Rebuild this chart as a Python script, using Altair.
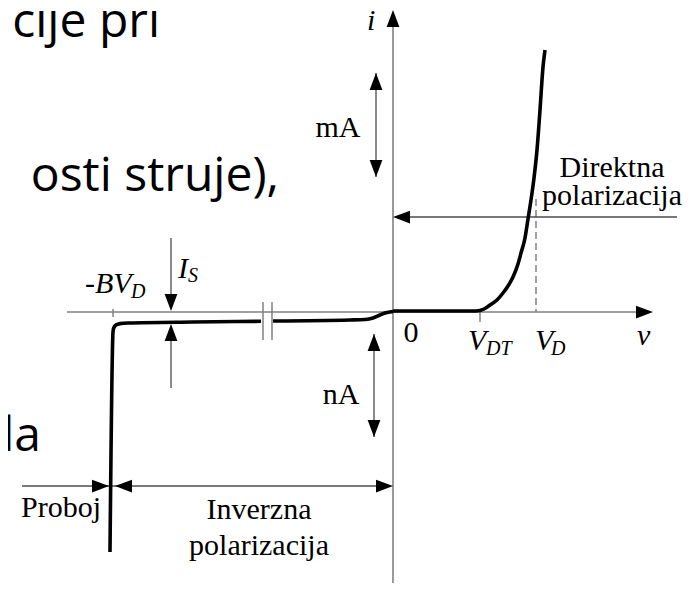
import altair as alt
import pandas as pd

# ---------------- data (diagram units: v to the right, i upward, origin at the axes crossing)
# diode characteristic, forward branch
fwd_v = [0, 83, 91, 97, 104, 110, 115, 120, 125, 128, 132, 135, 138, 141, 144, 147, 150, 152]
fwd_i = [1, 1, 3, 7, 12, 19, 26, 35, 48, 59, 74, 93, 112, 134, 162, 202, 245, 262]
# reverse branch, right of the axis break
revr_v = [0, -8, -13, -20, -28, -43, -120]
revr_i = [0.5, -1, -3, -6, -7.5, -8, -9]
# reverse branch, left of the break, then breakdown
revl_v = [-132, -200, -265, -273, -277, -279.3, -280, -283]
revl_i = [-9.3, -10, -11, -11.6, -13, -16, -20, -240]

# coordinate axes (v1, i1, v2, i2)
axis_v1 = [0, -326]
axis_i1 = [-271, 0]
axis_v2 = [0, 250]
axis_i2 = [287, 0]

# thin annotation arrow shafts
arr_v1 = [-17, -19, 284, -222, -222, -371]
arr_i1 = [239, -22, 95, 74, -76, -174]
arr_v2 = [-17, -19, 8, -222, -222, -8]
arr_i2 = [135, -125, 95, 9, -20, -174]

# ticks and the axis-break marks
tick_v1 = [-280, 87, -130, -121]
tick_i1 = [3, 0, 10, 10]
tick_v2 = [-280, 87, -130, -121]
tick_i2 = [-5, -10, -28, -28]

# dashed V_D guide
dash_v1 = [143]
dash_i1 = [113]
dash_v2 = [143]
dash_i2 = [0]

# arrow heads (centre, direction in degrees clockwise from up)
head_v = [0, 251.5, -17, -17, -19, -19, 8.5, -222, -222, -292.5, -269.5, -8.5]
head_i = [293.5, 0, 230.5, 143.5, -30.5, -116.5, 95, 9.5, -20.5, -174, -174, -174]
head_a = [0, 90, 0, 180, 0, 180, 270, 180, 0, 90, 270, 90]

# upright serif labels (centred)
lab_text = ["mA", "nA", "Direktna", "polarizacija", "Proboj", "Inverzna", "polarizacija", "0"]
lab_v = [-55, -52, 219, 219, -332, -134, -134, 18]
lab_i = [175, -92, 135, 107, -205, -207, -243, -30]

# italic serif symbols (left aligned)
sym_text = ["i", "v", "V", "V", "-BV", "I"]
sym_v = [-26, 244, 75, 142, -308, -215]
sym_i = [282, -33, -38, -38, 19, 34]

# italic subscripts (left aligned)
sub_text = ["DT", "D", "D", "S"]
sub_v = [93, 158, -262, -205]
sub_i = [-43, -43, 14, 30]

# slide text fragments (right aligned, cut at the left edge)
slide_text = ["cije pri", "osti struje),", "da"]
slide_v = [-233, -114, -352]
slide_i = [275, 121, -139]

# ---------------- tables
curve = pd.DataFrame(
    [dict(seg="fwd", k=k, v=a, i=b) for k, (a, b) in enumerate(zip(fwd_v, fwd_i))]
    + [dict(seg="revr", k=k, v=a, i=b) for k, (a, b) in enumerate(zip(revr_v, revr_i))]
    + [dict(seg="revl", k=k, v=a, i=b) for k, (a, b) in enumerate(zip(revl_v, revl_i))]
)

def seg_df(v1, i1, v2, i2):
    return pd.DataFrame({"v": v1, "i": i1, "v2": v2, "i2": i2})

axes_df = seg_df(axis_v1, axis_i1, axis_v2, axis_i2)
arr_df = seg_df(arr_v1, arr_i1, arr_v2, arr_i2)
tick_df = seg_df(tick_v1, tick_i1, tick_v2, tick_i2)
dash_df = seg_df(dash_v1, dash_i1, dash_v2, dash_i2)
heads = pd.DataFrame({"v": head_v, "i": head_i, "a": head_a})
labs = pd.DataFrame({"t": lab_text, "v": lab_v, "i": lab_i})
syms = pd.DataFrame({"t": sym_text, "v": sym_v, "i": sym_i})
subs = pd.DataFrame({"t": sub_text, "v": sub_v, "i": sub_i})
slide = pd.DataFrame({"t": slide_text, "v": slide_v, "i": slide_i})

# ---------------- scales
xs = alt.Scale(domain=[-385, 289], nice=False, zero=False)
ys = alt.Scale(domain=[-290, 304], nice=False, zero=False)
X = alt.X("v:Q", scale=xs, axis=None)
Y = alt.Y("i:Q", scale=ys, axis=None)
X2 = alt.X2("v2:Q")
Y2 = alt.Y2("i2:Q")

GRAY = "#808080"
SERIF = "Liberation Serif"

axes_l = alt.Chart(axes_df).mark_rule(color=GRAY, strokeWidth=1.6).encode(x=X, y=Y, x2=X2, y2=Y2)
arr_l = alt.Chart(arr_df).mark_rule(color="#4d4d4d", strokeWidth=1.3).encode(x=X, y=Y, x2=X2, y2=Y2)
tick_l = alt.Chart(tick_df).mark_rule(color=GRAY, strokeWidth=1.5).encode(x=X, y=Y, x2=X2, y2=Y2)
dash_l = alt.Chart(dash_df).mark_rule(color=GRAY, strokeWidth=1.5, strokeDash=[7, 4]).encode(
    x=X, y=Y, x2=X2, y2=Y2)

curve_l = alt.Chart(curve).mark_line(color="black", strokeWidth=3.6, strokeJoin="round",
                                     interpolate="monotone").encode(
    x=X, y=Y, detail="seg:N", order="k:Q")

head_l = alt.Chart(heads).mark_point(
    shape="M0,-1L0.75,1L-0.75,1Z", filled=True, size=289, color="black", opacity=1, strokeWidth=0
).encode(x=X, y=Y, angle=alt.Angle("a:Q", scale=None))

lab_l = alt.Chart(labs).mark_text(font=SERIF, fontSize=30, align="center", baseline="alphabetic",
                                   color="black").encode(x=X, y=Y, text="t:N")
sym_l = alt.Chart(syms).mark_text(font=SERIF, fontSize=30, fontStyle="italic", align="left",
                                   baseline="alphabetic", color="black").encode(x=X, y=Y, text="t:N")
sub_l = alt.Chart(subs).mark_text(font=SERIF, fontSize=20, fontStyle="italic", align="left",
                                   baseline="alphabetic", color="black").encode(x=X, y=Y, text="t:N")
slide_l = alt.Chart(slide).mark_text(font="Open Sans", fontSize=48, align="right",
                                      baseline="alphabetic", color="black").encode(x=X, y=Y, text="t:N")

chart = alt.layer(
    slide_l, axes_l, tick_l, dash_l, arr_l, curve_l, head_l, lab_l, sym_l, sub_l
).properties(
    width=674, height=594, padding=0,
    autosize=alt.AutoSizeParams(type="none"),
    background="white",
).configure_view(stroke=None)

chart.save("out.html", embed_options={"renderer": "svg", "actions": False})
